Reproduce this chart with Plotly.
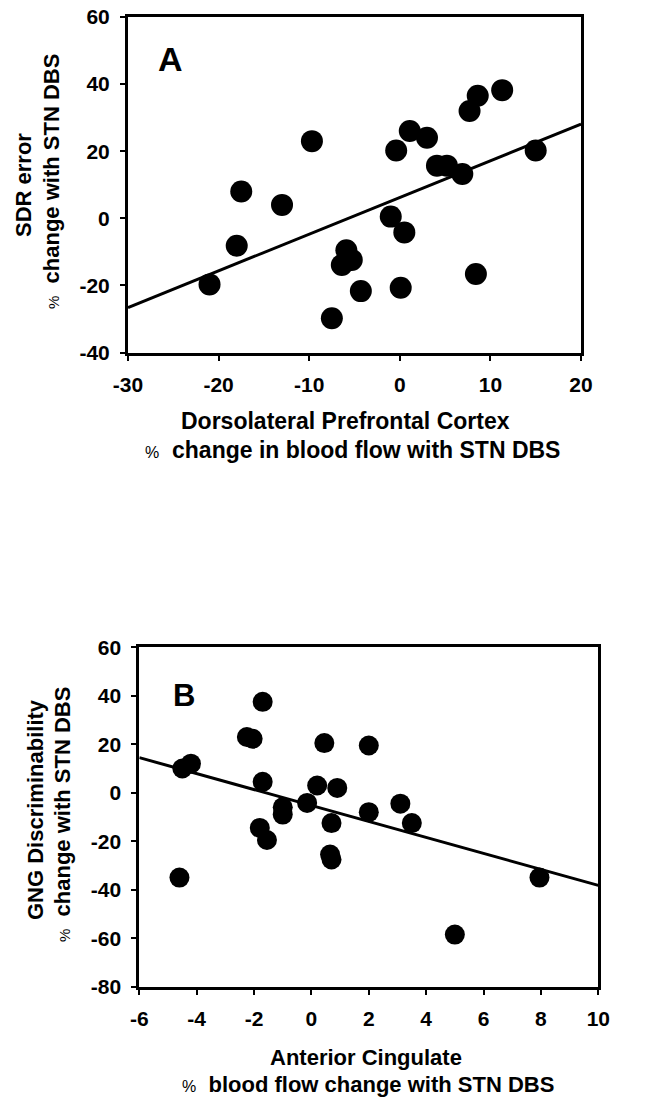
#!/usr/bin/env python
# coding: utf-8

import plotly.graph_objects as go

# panel A: dorsolateral prefrontal cortex vs SDR error
dlpfc_change = [-17.5, -13.0, -9.7, -0.4, 1.1, 3.0, 4.1, 5.2, 6.9, 7.7, 8.6, 11.3, 15.0,
				-18.0, -21.0, -7.5, -5.9, -6.4, -5.3, -4.3, -1.0, 0.5, 0.1, 8.4]
sdr_error = [8.0, 4.0, 23.0, 20.2, 26.0, 24.0, 15.7, 15.7, 13.2, 32.0, 36.5, 38.2, 20.2,
			 -8.2, -19.7, -29.8, -9.5, -13.9, -12.4, -21.7, 0.5, -4.2, -20.7, -16.6]
fit_a_x = [-30, 20]
fit_a_y = [-26.6, 28.1]
ticks_a_x = [-30, -20, -10, 0, 10, 20]
ticks_a_y = [-40, -20, 0, 20, 40, 60]

# panel B: anterior cingulate vs GNG discriminability
acc_change = [-1.7, -2.25, -2.05, 0.45, 2.0, -4.5, -4.2, -1.7, 0.2, 0.9, 3.1, -1.0,
			  -1.0, -0.15, 0.7, 0.65, 0.7, 2.0, 3.5, -1.8, -1.55, -4.6, 5.0, 7.95]
gng_disc = [37.5, 23.0, 22.3, 20.5, 19.5, 10.0, 12.0, 4.5, 3.0, 2.0, -4.5, -6.0,
			-9.0, -4.2, -12.5, -25.5, -27.5, -8.0, -12.5, -14.5, -19.5, -35.0, -58.5, -35.0]
fit_b_x = [-6, 10]
fit_b_y = [14.5, -38.2]
ticks_b_x = [-6, -4, -2, 0, 2, 4, 6, 8, 10]
ticks_b_y = [-80, -60, -40, -20, 0, 20, 40, 60]

W, H = 650, 1109
FONT = 'Liberation Sans, Arial, sans-serif'


def px_x(p):
	return p / W


def px_y(p):
	return 1 - p / H


def axis_style(rng, vals, domain, anchor):
	# plain hyphen for negatives, like the original figure
	return dict(range=rng, tickvals=vals, ticktext=[str(v) for v in vals],
				domain=domain, anchor=anchor, automargin=False,
				showgrid=False, zeroline=False,
				showline=True, linecolor='black', linewidth=3, mirror=True,
				ticks='outside', ticklen=5, tickwidth=2, tickcolor='black',
				ticklabelstandoff=6,
				tickfont=dict(family=FONT, size=21, color='black', weight='bold'))


fig = go.Figure()

# scatter + fit for A
fig.add_trace(go.Scatter(x=dlpfc_change, y=sdr_error, mode='markers',
						 marker=dict(size=22, color='black'),
						 xaxis='x', yaxis='y', showlegend=False))
fig.add_trace(go.Scatter(x=fit_a_x, y=fit_a_y, mode='lines',
						 line=dict(color='black', width=3),
						 xaxis='x', yaxis='y', showlegend=False))

# scatter + fit for B
fig.add_trace(go.Scatter(x=acc_change, y=gng_disc, mode='markers',
						 marker=dict(size=20, color='black'),
						 xaxis='x2', yaxis='y2', showlegend=False))
fig.add_trace(go.Scatter(x=fit_b_x, y=fit_b_y, mode='lines',
						 line=dict(color='black', width=3),
						 xaxis='x2', yaxis='y2', showlegend=False))

pct_x = "<span style='font-size:16px;font-weight:normal'>%</span>  "
pct_y = "<span style='font-size:15px;font-weight:normal'>%</span>  "
xtitle_font = dict(family=FONT, size=23, color='black')
xtitle_font_b = dict(family=FONT, size=22, color='black')
ytitle_font = dict(family=FONT, size=22, color='black')

annotations = [
	# panel letters
	dict(text='<b>A</b>', x=px_x(170), y=px_y(59), font=dict(family=FONT, size=34, color='black')),
	dict(text='<b>B</b>', x=px_x(184), y=px_y(695), font=dict(family=FONT, size=31, color='black')),
	# panel A axis titles
	dict(text='<b>Dorsolateral Prefrontal Cortex</b>', x=px_x(345), y=px_y(421), font=xtitle_font),
	dict(text=pct_x + '<b>change in blood flow with STN DBS</b>', x=px_x(352), y=px_y(450), font=xtitle_font),
	dict(text='<b>SDR error</b>', x=px_x(24), y=px_y(185), textangle=-90, font=ytitle_font),
	dict(text=pct_y + '<b>change with STN DBS</b>', x=px_x(51), y=px_y(182), textangle=-90, font=ytitle_font),
	# panel B axis titles
	dict(text='<b>Anterior Cingulate</b>', x=px_x(366), y=px_y(1057), font=xtitle_font_b),
	dict(text=pct_x + '<b>blood flow change with STN DBS</b>', x=px_x(368), y=px_y(1084), font=xtitle_font_b),
	dict(text='<b>GNG Discriminability</b>', x=px_x(35), y=px_y(810), textangle=-90, font=ytitle_font),
	dict(text=pct_y + '<b>change with STN DBS</b>', x=px_x(62), y=px_y(815), textangle=-90, font=ytitle_font),
]
for a in annotations:
	a.update(xref='paper', yref='paper', showarrow=False, xanchor='center', yanchor='middle')

fig.update_layout(
	width=W, height=H,
	margin=dict(l=0, r=0, t=0, b=0),
	paper_bgcolor='white', plot_bgcolor='white',
	xaxis=axis_style([-30, 20], ticks_a_x, [px_x(128), px_x(581)], 'y'),
	yaxis=axis_style([-40, 60], ticks_a_y, [px_y(352.5), px_y(17)], 'x'),
	xaxis2=axis_style([-6, 10], ticks_b_x, [px_x(139.3), px_x(598.3)], 'y2'),
	yaxis2=axis_style([-80, 60], ticks_b_y, [px_y(986.7), px_y(647.3)], 'x2'),
	annotations=annotations,
)

# drop the browser's default body margin so the figure sits at (0, 0)
fig.write_html("out.html", config={'displayModeBar': False},
			   post_script="document.body.style.margin='0';")
